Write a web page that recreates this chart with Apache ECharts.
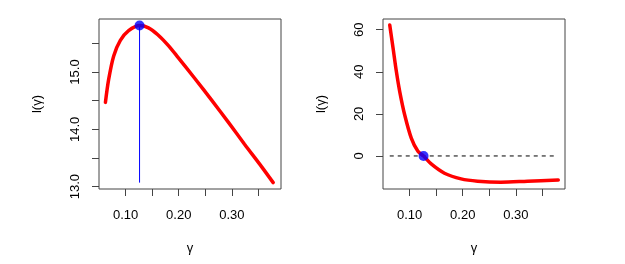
<!DOCTYPE html>
<html><head><meta charset="utf-8">
<script src="https://cdn.jsdelivr.net/npm/echarts@6/dist/echarts.min.js"></script>
<style>html,body{margin:0;padding:0;background:#fff}#c{width:625px;height:264px}</style>
</head><body><div id="c"></div>
<script>
// Left panel: l(gamma)
const leftGamma = [0.0619, 0.068, 0.0775, 0.09, 0.1056, 0.1262, 0.143, 0.1606, 0.1806, 0.199, 0.23, 0.262, 0.293, 0.324, 0.356, 0.378];
const leftL     = [14.47, 14.87, 15.28, 15.55, 15.72, 15.81, 15.77, 15.65, 15.46, 15.25, 14.89, 14.51, 14.13, 13.74, 13.35, 13.07];
// Right panel: l'(gamma)
const rightGamma = [0.0625, 0.0688, 0.075, 0.0813, 0.0906, 0.1031, 0.1156, 0.1262, 0.1406, 0.1656, 0.1969, 0.228, 0.272, 0.322, 0.380];
const rightDL    = [62.2, 51.2, 40.1, 30.6, 19.6, 8.5, 2.2, 0.0, -3.8, -8.2, -10.9, -12.0, -12.5, -12.0, -11.4];
// MLE point
const gammaHat = 0.1262;
const lMax = 15.81;
const lMin = 13.07;
// tick values
const xTicks = [0.10, 0.15, 0.20, 0.25, 0.30, 0.35];
const xLabels = [0.10, 0.20, 0.30];
const leftYTicks = [13.0, 13.5, 14.0, 14.5, 15.0, 15.5];
const leftYLabels = [13.0, 14.0, 15.0];
const rightYTicks = [0, 20, 40, 60];
const zeroLineX = [0.0625, 0.378];

const font = 'Liberation Sans, Arial, Helvetica, sans-serif';
const boxColor = '#444';
function xAxisDef(idx){
  return {
    type:'value', gridIndex: idx, min: 0.0498, max: 0.3927,
    name:'γ', nameLocation:'middle', nameGap: 53,
    nameTextStyle:{fontFamily:font, fontSize:13, color:'#000'},
    axisLine:{show:false, onZero:false},
    splitLine:{show:false},
    axisTick:{show:true, inside:false, length:7, lineStyle:{color:boxColor}, customValues: xTicks},
    axisLabel:{show:true, margin:20, fontFamily:font, fontSize:13, color:'#000',
      customValues: xLabels, formatter: v => v.toFixed(2)}
  };
}
function yAxisDef(idx, min, max, ticks, labels, fmt){
  return {
    type:'value', gridIndex: idx, min:min, max:max,
    name:'l(γ)', nameLocation:'middle', nameGap: 55, nameRotate: 90,
    nameTextStyle:{fontFamily:font, fontSize:13, color:'#000'},
    axisLine:{show:false, onZero:false},
    splitLine:{show:false},
    axisTick:{show:true, inside:false, length:7, lineStyle:{color:boxColor}, customValues: ticks},
    axisLabel:{show:true, rotate:90, margin:17, fontFamily:font, fontSize:13, color:'#000',
      customValues: labels, formatter: fmt}
  };
}
const chart = echarts.init(document.getElementById('c'), null, {renderer:'canvas'});
chart.setOption({
  animation:false,
  backgroundColor:'#fff',
  grid:[
    {left:99, right:344, top:19, bottom:75, show:true, borderColor:boxColor, borderWidth:1, backgroundColor:'transparent'},
    {left:383, right:60, top:19, bottom:75, show:true, borderColor:boxColor, borderWidth:1, backgroundColor:'transparent'}
  ],
  xAxis:[xAxisDef(0), xAxisDef(1)],
  yAxis:[
    yAxisDef(0, 12.959, 15.924, leftYTicks, leftYLabels, v => v.toFixed(1)),
    yAxisDef(1, -15.7, 65.1, rightYTicks, rightYTicks, v => String(v))
  ],
  series:[
    {type:'line', xAxisIndex:0, yAxisIndex:0, data:[[gammaHat, lMax],[gammaHat, lMin]],
      symbol:'none', lineStyle:{color:'#0000ff', width:1}, z:2},
    {type:'line', xAxisIndex:0, yAxisIndex:0, smooth:0.3, data: leftGamma.map((g,i)=>[g, leftL[i]]),
      symbol:'none', lineStyle:{color:'#ff0000', width:3.5, cap:'round'}, z:3},
    {type:'scatter', xAxisIndex:0, yAxisIndex:0, data:[[gammaHat, lMax]],
      symbolSize:10, itemStyle:{color:'#0000ff'}, z:4},
    {type:'line', xAxisIndex:1, yAxisIndex:1, data: zeroLineX.map(g=>[g,0]),
      symbol:'none', lineStyle:{color:'#000', width:1, type:[4,4]}, z:2},
    {type:'line', xAxisIndex:1, yAxisIndex:1, smooth:0.3, data: rightGamma.map((g,i)=>[g, rightDL[i]]),
      symbol:'none', lineStyle:{color:'#ff0000', width:3.5, cap:'round'}, z:3},
    {type:'scatter', xAxisIndex:1, yAxisIndex:1, data:[[gammaHat, 0]],
      symbolSize:10, itemStyle:{color:'#0000ff'}, z:4}
  ]
});
</script></body></html>
